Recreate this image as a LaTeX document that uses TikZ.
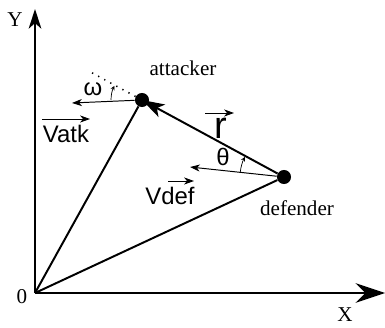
\documentclass[tikz,border=0pt]{standalone}
\usepackage{fontspec}
\setmainfont{Liberation Serif}
\newfontfamily\arialfont{Liberation Sans}
\usepackage{tikz}
\usetikzlibrary{arrows.meta, positioning}

\begin{document}
\begin{tikzpicture}[x=0.025cm, y=0.025cm,
  axis/.style={line width=1.4pt},
  bigline/.style={line width=1.4pt},
  vec/.style={line width=0.7pt, -{Stealth[length=7pt, width=5pt, inset=2pt]}},
  anglearc/.style={line width=0.5pt, -{Stealth[length=3pt, width=3pt]}},
  dot/.style={circle, fill=black, minimum size=10pt, inner sep=0pt},
  lbl/.style={font=\fontsize{15}{15}\selectfont},
  sflbl/.style={font=\arialfont\fontsize{17}{17}\selectfont}]
\useasboundingbox (0,0) rectangle (385,327);
% axes
\coordinate (O) at (35,34);
\coordinate (xend) at (385,34);
\coordinate (yend) at (35,318);
\draw[axis, -{Stealth[length=21pt, width=14pt, inset=7pt]}] (O) -- (xend);
\draw[axis, -{Stealth[length=14pt, width=9pt, inset=4pt]}] (O) -- (yend);
\node[lbl] (ylbl) at (15,307) {Y};
\node[lbl] (xlbl) at (345,12) {X};
\node[lbl] (olbl) at (22,30) {0};
% players
\node[dot] (atk) at (142,227) {};
\node[dot] (def) at (284,150) {};
\node[lbl] (atklbl) at (183,259) {attacker};
\node[lbl] (deflbl) at (297,119) {defender};
\draw[bigline] (O) -- (atk);
\draw[bigline] (O) -- (def);
\draw[bigline, -{Stealth[length=16pt, width=10pt, inset=4pt]}] (def) -- (atk.center);
% velocities
\coordinate (vatkend) at (72,224);
\coordinate (vdefend) at (190,160);
\coordinate (rext) at (87.5,256.6);
\draw[vec] (atk) -- (vatkend);
\draw[vec] (def) -- (vdefend);
\draw[line width=1.1pt, dash pattern=on 0.9pt off 4pt] (atk) -- (rext);
% angles
\draw[anglearc] ([shift={(180:31)}]atk.center) arc[start angle=180, end angle=153, radius=31];
\draw[anglearc] ([shift={(174:44)}]def.center) arc[start angle=174, end angle=153, radius=44];
\node[sflbl] (omega) at (93,238) {ω};
\node[sflbl] (theta) at (223,170) {θ};
% vector labels
\node[sflbl] (vatk) at (66,193) {Vatk};
\draw[vec] (42,208) -- (90,208);
\node[sflbl] (vdef) at (170,131) {Vdef};
\draw[vec] (168,146) -- (194,146);
\node[font=\arialfont\fontsize{27}{27}\selectfont] (r) at (221,199) {r};
\draw[vec] (205,214) -- (234,214);
\end{tikzpicture}
\end{document}
